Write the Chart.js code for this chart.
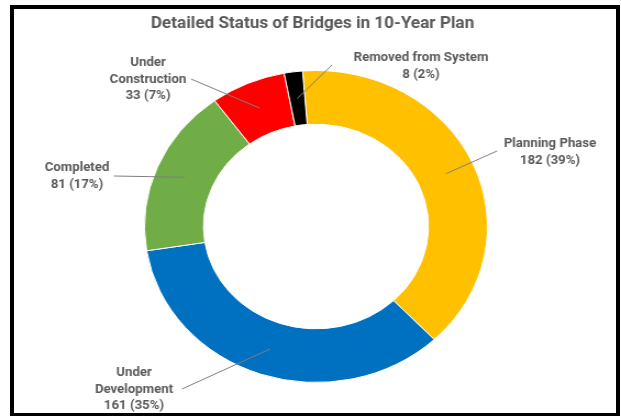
<!DOCTYPE html>
<html lang="en">
<head>
  <meta charset="UTF-8" />
  <title>Detailed Status of Bridges in 10-Year Plan</title>
  <script src="https://cdn.jsdelivr.net/npm/chart.js"></script>
  <style>
    body {
      margin: 0;
      background: #fff;
      width: 621px;
      height: 416px;
      overflow: hidden;
      position: relative;
    }

    /* the source chart is stretched a bit wider than tall */
    .chart-wrap {
      position: absolute;
      left: 0;
      top: 0;
      width: 565px;
      height: 416px;
      transform: scaleX(1.0991);
      transform-origin: 0 0;
    }

    .frame {
      position: absolute;
      left: 10px;
      top: 5px;
      width: 610px;
      height: 411px;
      box-sizing: border-box;
      border: 4px solid #000;
      border-bottom-width: 3px;
      pointer-events: none;
    }
  </style>
</head>
<body>

  <div class="chart-wrap">
    <canvas id="bridgeChart"></canvas>
  </div>
  <div class="frame"></div>

  <script>
    const chartTitle = 'Detailed Status of Bridges in 10-Year Plan';
    const categories = ['Planning Phase', 'Under Development', 'Completed', 'Under Construction', 'Removed from System'];
    const labelLines = [['Planning Phase'], ['Under', 'Development'], ['Completed'], ['Under', 'Construction'], ['Removed from System']];
    const counts = [182, 161, 81, 33, 8];
    const colors = ['#FFC000', '#0070C0', '#70AD47', '#FF0000', '#000000'];

    // callout placement, in page pixels: label centre / first line, and where the leader line stops
    const labelAt = [[550, 144], [134, 373], [77, 168], [148, 63], [421, 58]];
    const leaderEnd = [[497, 151], [182, 389], [114, 176], [191, 79], [332, 65]];

    const SX = 1.0991;
    const total = counts.reduce((a, b) => a + b, 0);

    const calloutPlugin = {
      id: 'callouts',
      afterDraw(chart) {
        const ctx = chart.ctx;
        const arcs = chart.getDatasetMeta(0).data;
        ctx.save();
        ctx.textAlign = 'center';
        ctx.textBaseline = 'middle';

        // Title
        ctx.fillStyle = '#595959';
        ctx.font = 'bold 15.6px Roboto';
        ctx.fillText(chartTitle, 312.5 / SX, 24.5);

        // Leader lines + labels
        ctx.font = 'bold 12px Roboto';
        arcs.forEach((arc, i) => {
          const p = arc.getProps(['x', 'y', 'startAngle', 'endAngle', 'innerRadius', 'outerRadius'], true);
          const mid = (p.startAngle + p.endAngle) / 2;
          const r = (p.innerRadius + p.outerRadius) / 2;
          ctx.strokeStyle = '#7f7f7f';
          ctx.lineWidth = 1;
          ctx.beginPath();
          ctx.moveTo(p.x + Math.cos(mid) * r, p.y + Math.sin(mid) * r);
          ctx.lineTo(leaderEnd[i][0] / SX, leaderEnd[i][1]);
          ctx.stroke();

          const pct = Math.round(counts[i] / total * 100);
          const lines = [...labelLines[i], `${counts[i]} (${pct}%)`];
          ctx.fillStyle = '#595959';
          lines.forEach((t, k) => {
            ctx.fillText(t, labelAt[i][0] / SX, labelAt[i][1] + k * 16.7);
          });
        });
        ctx.restore();
      }
    };

    new Chart(document.getElementById('bridgeChart'), {
      type: 'doughnut',
      data: {
        labels: categories,
        datasets: [{
          data: counts,
          backgroundColor: colors,
          borderColor: '#ffffff',
          borderWidth: 1
        }]
      },
      options: {
        responsive: true,
        maintainAspectRatio: false,
        animation: false,
        rotation: -4.5,
        cutout: '65.6%',
        layout: {
          padding: { top: 70, bottom: 33, left: 20, right: 10 }
        },
        plugins: {
          legend: { display: false },
          tooltip: { enabled: false },
          title: { display: false }
        }
      },
      plugins: [calloutPlugin]
    });
  </script>

</body>
</html>
